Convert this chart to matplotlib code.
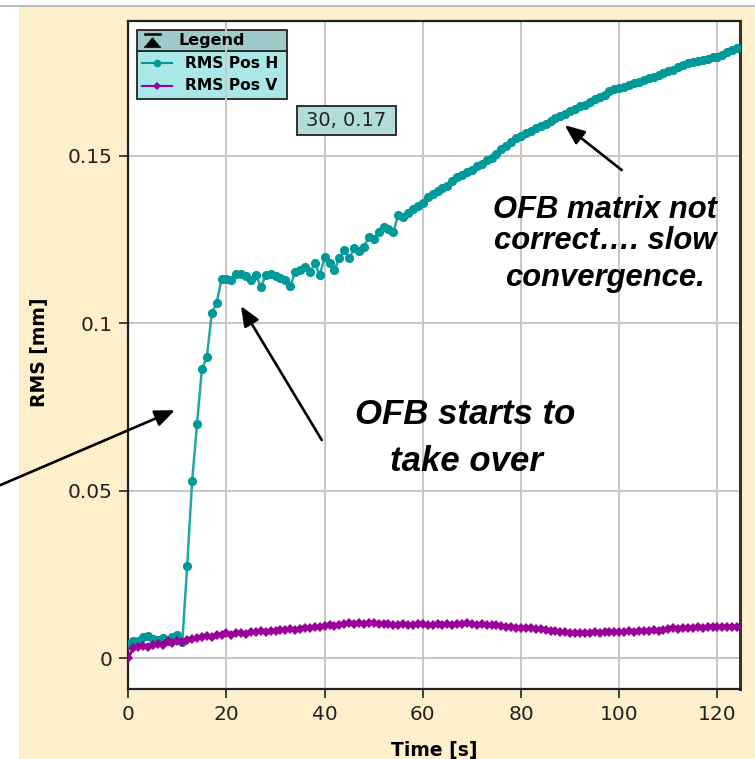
import matplotlib
matplotlib.use("Agg")
import matplotlib.pyplot as plt
from matplotlib.patches import Rectangle, Polygon
from matplotlib.lines import Line2D

# ---------------- data ----------------
time_s = list(range(0, 125))

rms_pos_h = [
    0.0042, 0.0050, 0.0052, 0.0062, 0.0066, 0.0057, 0.0055, 0.0060, 0.0052, 0.0064,
    0.0070, 0.0048, 0.0276, 0.0528, 0.0700, 0.0863, 0.0898, 0.1029, 0.1061, 0.1131,
    0.1133, 0.1128, 0.1146, 0.1148, 0.1140, 0.1130, 0.1143, 0.1108, 0.1143, 0.1148,
    0.1140, 0.1136, 0.1128, 0.1110, 0.1153, 0.1160, 0.1168, 0.1153, 0.1178, 0.1143,
    0.1198, 0.1180, 0.1160, 0.1193, 0.1218, 0.1193, 0.1223, 0.1215, 0.1228, 0.1258,
    0.1250, 0.1273, 0.1287, 0.1280, 0.1273, 0.1322, 0.1317, 0.1330, 0.1342, 0.1350,
    0.1360, 0.1377, 0.1385, 0.1395, 0.1403, 0.1410, 0.1425, 0.1435, 0.1442, 0.1450,
    0.1458, 0.1468, 0.1475, 0.1486, 0.1492, 0.1505, 0.1521, 0.1530, 0.1540, 0.1553,
    0.1560, 0.1568, 0.1575, 0.1582, 0.1588, 0.1595, 0.1603, 0.1612, 0.1618, 0.1625,
    0.1632, 0.1640, 0.1647, 0.1652, 0.1660, 0.1668, 0.1675, 0.1682, 0.1692, 0.1698,
    0.1702, 0.1706, 0.1710, 0.1716, 0.1720, 0.1726, 0.1731, 0.1736, 0.1742, 0.1748,
    0.1752, 0.1757, 0.1765, 0.1770, 0.1777, 0.1780, 0.1784, 0.1787, 0.1790, 0.1794,
    0.1796, 0.1801, 0.1808, 0.1814, 0.1820,
]

rms_pos_v = [
    0.0000, 0.0030, 0.0034, 0.0036, 0.0033, 0.0039, 0.0042, 0.0040, 0.0050, 0.0046,
    0.0052, 0.0048, 0.0055, 0.0058, 0.0060, 0.0064, 0.0066, 0.0063, 0.0068, 0.0070,
    0.0074, 0.0070, 0.0074, 0.0076, 0.0073, 0.0079, 0.0077, 0.0080, 0.0078, 0.0082,
    0.0081, 0.0084, 0.0084, 0.0086, 0.0083, 0.0088, 0.0090, 0.0089, 0.0092, 0.0093,
    0.0096, 0.0098, 0.0097, 0.0100, 0.0102, 0.0104, 0.0102, 0.0105, 0.0103, 0.0106,
    0.0105, 0.0103, 0.0101, 0.0102, 0.0100, 0.0099, 0.0101, 0.0099, 0.0100, 0.0102,
    0.0101, 0.0099, 0.0100, 0.0102, 0.0099, 0.0101, 0.0100, 0.0102, 0.0101, 0.0104,
    0.0102, 0.0100, 0.0101, 0.0099, 0.0100, 0.0099, 0.0097, 0.0094, 0.0092, 0.0090,
    0.0091, 0.0089, 0.0090, 0.0087, 0.0086, 0.0083, 0.0082, 0.0080, 0.0078, 0.0077,
    0.0075, 0.0074, 0.0075, 0.0076, 0.0075, 0.0077, 0.0076, 0.0078, 0.0077, 0.0079,
    0.0079, 0.0078, 0.0080, 0.0079, 0.0081, 0.0080, 0.0082, 0.0083, 0.0082, 0.0085,
    0.0086, 0.0089, 0.0087, 0.0090, 0.0091, 0.0090, 0.0092, 0.0091, 0.0093, 0.0092,
    0.0094, 0.0093, 0.0092, 0.0094, 0.0093,
]

series_names = ["RMS Pos H", "RMS Pos V"]
x_ticks = [0, 20, 40, 60, 80, 100, 120]
y_ticks = [0, 0.05, 0.1, 0.15]
y_tick_labels = ["0", "0.05", "0.1", "0.15"]
tooltip_text = "30, 0.17"

# ---------------- figure ----------------
W, H = 755, 759
fig = plt.figure(figsize=(W / 100, H / 100), dpi=100)
fig.patch.set_facecolor("white")


def fx(px):
    return px / W


def fy(py):
    return 1 - py / H


# cream panel + top gray line
fig.patches.append(Rectangle((fx(19), 0), 1 - fx(19), fy(7), transform=fig.transFigure,
                             facecolor="#FFEFCB", edgecolor="none", zorder=-10))
fig.patches.append(Rectangle((0, fy(7)), 1, 2 / H, transform=fig.transFigure,
                             facecolor="#B4BCC4", edgecolor="none", zorder=-9))

ax = fig.add_axes([128.3 / W, (H - 689) / H, (740 - 128.3) / W, (689 - 21) / H])
ax.set_facecolor("white")

TEAL = "#009999"
PURPLE = "#990099"

ax.plot(time_s, rms_pos_h, color="#22a7a7", lw=1.8, marker="o", ms=6.6,
        mfc=TEAL, mec=TEAL, mew=0, zorder=3)
ax.plot(time_s, rms_pos_v, color=PURPLE, lw=2.0, marker="D", ms=5.0,
        mfc=PURPLE, mec=PURPLE, mew=0, zorder=4)

ax.set_xlim(0, 124.6)
ax.set_ylim(-0.00925, 0.1902)
ax.set_xticks(x_ticks)
ax.set_yticks(y_ticks)
ax.set_yticklabels(y_tick_labels)
ax.set_axisbelow(True)
ax.grid(True, color="#C8C8C8", lw=1.5)
ax.tick_params(direction="out", length=6.5, width=1.2, color="#222222",
               labelsize=14.5, labelcolor="#222222", pad=5)
for s in ax.spines.values():
    s.set_color("#222222")
    s.set_linewidth(1.6)
ax.spines["right"].set_color("#333333")
ax.spines["right"].set_linewidth(2.2)

ax.set_xlabel("Time [s]", fontsize=13.5, fontweight="bold", va="top")
ax.xaxis.set_label_coords(0.5, (689 - 741) / 668)
ax.set_ylabel("RMS [mm]", fontsize=13.5, fontweight="bold")
ax.yaxis.set_label_coords((49 - 128.3) / 611.7, 0.504)

# ---------------- legend (custom, drawn like the Java widget) ----------------
tf = fig.transFigure
ax.add_patch(Rectangle((fx(137), fy(99)), fx(287) - fx(137), fy(51) - fy(99), transform=tf,
                       facecolor="#AAE8E8", edgecolor="#222222", lw=1.3, zorder=0.3, clip_on=False))
ax.add_patch(Rectangle((fx(137), fy(51)), fx(287) - fx(137), fy(30) - fy(51), transform=tf,
                       facecolor="#9FCACA", edgecolor="#222222", lw=1.3, zorder=0.3, clip_on=False))
# header icon
ax.add_line(Line2D([fx(145), fx(160)], [fy(34), fy(34)], transform=tf, color="black",
                   lw=1.8, zorder=5, clip_on=False))
ax.add_patch(Polygon([[fx(146), fy(46)], [fx(159), fy(46)], [fx(152.5), fy(38)]], closed=True,
                     transform=tf, facecolor="black", edgecolor="black", lw=0.8, zorder=5, clip_on=False))
ax.add_line(Line2D([fx(145), fx(160)], [fy(46.5), fy(46.5)], transform=tf, color="black",
                   lw=1.2, zorder=5, clip_on=False))
fig.text(fx(178), fy(41), "Legend", fontsize=11.5, fontweight="bold", va="center", ha="left",
         color="black")
# entries
for yy, col, mk, msz, name in [(63, TEAL, "o", 5.5, series_names[0]),
                               (86, PURPLE, "D", 4.0, series_names[1])]:
    ax.add_line(Line2D([fx(142), fx(172)], [fy(yy), fy(yy)], transform=tf, color=col, lw=1.5,
                       zorder=5, clip_on=False))
    ax.add_line(Line2D([fx(157)], [fy(yy)], transform=tf, color=col, marker=mk, ms=msz,
                       mew=0, zorder=5, clip_on=False))
    fig.text(fx(185), fy(yy), name, fontsize=11.2, fontweight="bold", va="center", ha="left",
             color="black")

# tooltip
ax.add_patch(Rectangle((fx(297), fy(135)), fx(396) - fx(297), fy(106) - fy(135), transform=tf,
                       facecolor="#B0DCDC", edgecolor="#222222", lw=1.3, zorder=6, clip_on=False))
fig.text(fx(346.5), fy(121), tooltip_text, fontsize=14, ha="center", va="center",
         color="#222222", zorder=7)

# ---------------- annotations ----------------
afont = dict(family="Liberation Sans", fontweight="bold", fontstyle="italic", color="black")
fig.text(fx(465.5), fy(424.3), "OFB starts to", fontsize=25, ha="center", va="baseline", **afont)
fig.text(fx(466), fy(471), "take over", fontsize=25, ha="center", va="baseline", **afont)
fig.text(fx(605), fy(217.7), "OFB matrix not", fontsize=22.3, ha="center", va="baseline", **afont)
fig.text(fx(605), fy(249), "correct\u2026. slow", fontsize=22.3, ha="center", va="baseline", **afont)
fig.text(fx(605), fy(286), "convergence.", fontsize=22.3, ha="center", va="baseline", **afont)

arrow_kw = dict(arrowstyle="-|>,head_length=0.6,head_width=0.25", color="black", lw=1.9,
                shrinkA=0, shrinkB=0, mutation_scale=20)
arrows = [((9.5, 0.0740), (-26.1, 0.0516)),
          ((22.95, 0.1051), (39.4, 0.0651)),
          ((88.9, 0.1591), (100.5, 0.1457))]
for head, tail in arrows:
    ax.annotate("", xy=head, xytext=tail, xycoords="data", textcoords="data",
                arrowprops=arrow_kw, annotation_clip=False, zorder=8)

fig.savefig("out.png", dpi=100)
